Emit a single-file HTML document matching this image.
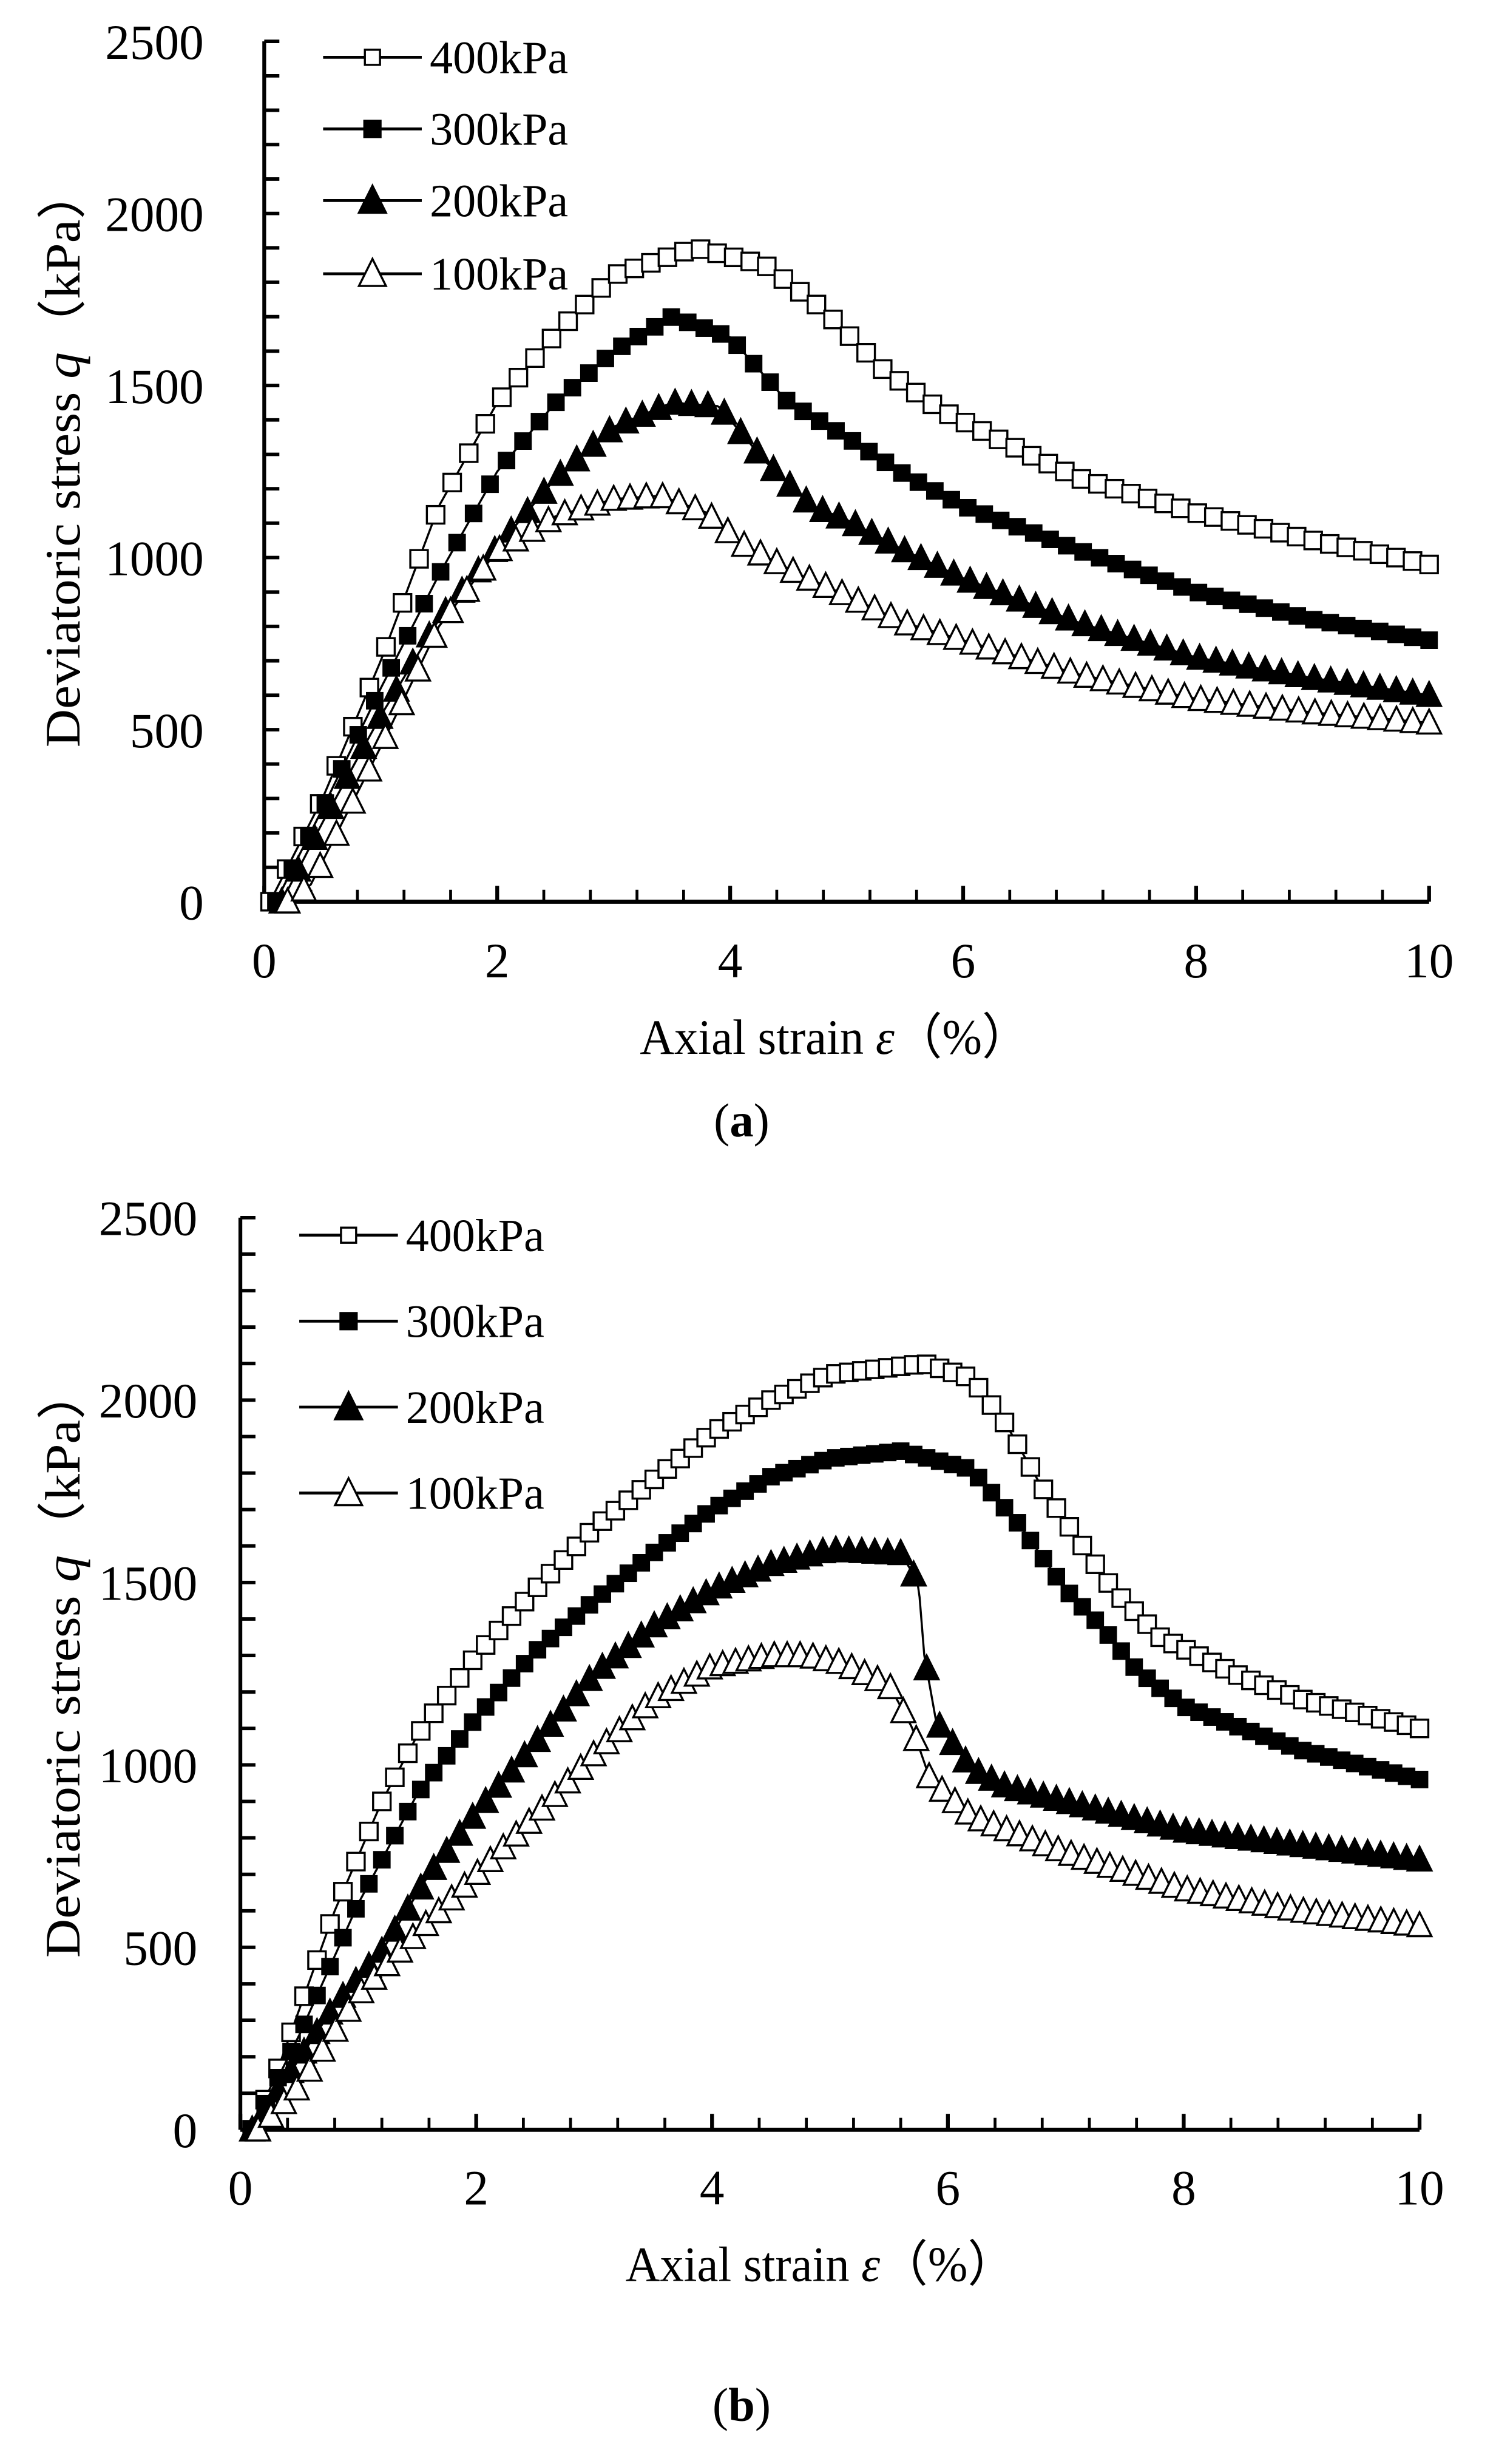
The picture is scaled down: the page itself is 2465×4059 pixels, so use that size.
<!DOCTYPE html>
<html><head><meta charset="utf-8"><style>
html,body{margin:0;padding:0;background:#fff}
svg{display:block}
text{font-family:"Liberation Serif",serif;fill:#000}
</style></head><body>
<svg id="s" width="2465" height="4059" viewBox="0 0 940 1548" xmlns="http://www.w3.org/2000/svg">
<rect width="940" height="1548" fill="#fff"/>
</svg>
<script>
const NS="http://www.w3.org/2000/svg",S=document.getElementById('s');
function el(t,a,txt){const e=document.createElementNS(NS,t);for(const k in a)e.setAttribute(k,a[k]);if(txt!==undefined)e.textContent=txt;S.appendChild(e);return e;}
function interp(p,x){for(let i=0;i<p.length-1;i++){if(x<=p[i+1][0]){const t=(x-p[i][0])/(p[i+1][0]-p[i][0]);return p[i][1]+t*(p[i+1][1]-p[i][1]);}}return p[p.length-1][1];}
function marker(type,x,y,sz){
 if(type==0) el('rect',{x:x-sz/2,y:y-sz/2,width:sz,height:sz,fill:'#fff',stroke:'#000','stroke-width':1.3});
 else if(type==1) el('rect',{x:x-sz/2,y:y-sz/2,width:sz,height:sz,fill:'#000'});
 else {const h=sz;el('polygon',{points:`${x},${y-h*0.55} ${x-sz*0.5},${y+h*0.45} ${x+sz*0.5},${y+h*0.45}`,fill:type==2?'#000':'#fff',stroke:'#000','stroke-width':1.3});}
}
function chart(c){
 const X=v=>c.x0+(c.x1-c.x0)*v/10, Y=v=>c.y0+(c.y1-c.y0)*v/2500;
 el('line',{x1:c.x0,y1:c.y1,x2:c.x0,y2:c.y0,stroke:'#000','stroke-width':2.4});
 el('line',{x1:c.x0,y1:c.y0,x2:c.x1,y2:c.y0,stroke:'#000','stroke-width':2.6});
 for(let v=0;v<=2500;v+=100){el('line',{x1:c.x0,y1:Y(v),x2:c.x0+9.5,y2:Y(v),stroke:'#000','stroke-width':2.2});
  if(v%500==0) el('text',{x:c.lblR,y:Y(v)+11,'font-size':31,'text-anchor':'end'},v);}
 for(let k=0;k<=25;k++){const v=k*0.4;el('line',{x1:X(v),y1:c.y0,x2:X(v),y2:c.y0-7.5,stroke:'#000','stroke-width':1.8});}
 for(let v=0;v<=10;v+=2){el('line',{x1:X(v),y1:c.y0,x2:X(v),y2:c.y0-10,stroke:'#000','stroke-width':2.4});
  el('text',{x:X(v),y:c.xtb,'font-size':31,'text-anchor':'middle'},v);}
 const yl=el('text',{x:0,y:0,'font-size':31,'text-anchor':'middle',textLength:c.yll,lengthAdjust:'spacingAndGlyphs',transform:`translate(${c.ylx},${c.ylc}) rotate(-90)`});
 yl.innerHTML='Deviatoric stress <tspan font-style="italic">q</tspan>（kPa）';
 const xl=el('text',{x:c.xlx,y:c.xly,'font-size':31,textLength:245,lengthAdjust:'spacingAndGlyphs'});
 xl.innerHTML='Axial strain <tspan font-style="italic">ε</tspan>（%）';
 const cap=el('text',{x:466,y:c.capy,'font-size':30,'text-anchor':'middle'});
 cap.innerHTML='(<tspan font-weight="bold">'+c.cap+'</tspan>)';
 c.series.forEach((p,i)=>{
  let d='';const st=p[0][0],en=p[p.length-1][0];
  for(let x=st;x<=en+1e-9;x+=0.02){d+=(d?'L':'M')+X(x).toFixed(2)+','+Y(interp(p,x)).toFixed(2);}
  el('path',{d:d,fill:'none',stroke:'#000','stroke-width':1.3});
  const n=c.nm;for(let k=0;k<=n;k++){const x=st+(en-st)*k/n;marker(i,X(x),Y(interp(p,x)),i>=2?15:11);}
 });
 const names=['400kPa','300kPa','200kPa','100kPa'];
 names.forEach((nm,i)=>{const y=c.ly[i];el('line',{x1:c.lx0,y1:y,x2:c.lx1,y2:y,stroke:'#000','stroke-width':1.8});
  marker(i,(c.lx0+c.lx1)/2,y,i>=2?17:(i==0?9.5:11.5));el('text',{x:c.lx1+5,y:y+10,'font-size':29},nm);});
}
chart({x0:166,x1:898,y0:566.5,y1:26,lblR:128,xtb:614,ylx:50,ylc:287,yll:365,xlx:402,xly:662,capy:714,cap:'a',nm:70,
 lx0:203,lx1:265,ly:[36,81,126,172],
 series:[
 [[0.05,0],[0.5,300],[1,700],[1.5,1150],[2,1450],[2.5,1650],[3,1820],[3.7,1900],[4.3,1850],[4.8,1720],[5.3,1550],[5.8,1430],[6.5,1310],[7,1230],[8,1130],[9,1050],[10,980]],
 [[0.1,0],[0.5,270],[1,620],[1.5,950],[2,1250],[2.5,1450],[3,1600],[3.5,1700],[4,1640],[4.5,1450],[5,1350],[5.5,1240],[6,1150],[7,1020],[8,900],[9,820],[10,760]],
 [[0.15,0],[0.5,230],[1,540],[1.5,820],[2,1030],[2.5,1230],[3,1380],[3.5,1450],[3.9,1440],[4.3,1280],[4.7,1150],[5,1110],[5.5,1020],[6,940],[7,810],[8,710],[9,650],[10,600]],
 [[0.2,0],[0.4,50],[1,450],[1.5,800],[2,1020],[2.5,1120],[3,1170],[3.4,1180],[3.8,1130],[4.1,1040],[4.6,950],[5,890],[5.5,810],[6,760],[7,660],[8,590],[9,550],[10,520]]]});
chart({x0:151,x1:892,y0:1338,y1:765,lblR:124,xtb:1385,ylx:50,ylc:1044,yll:372,xlx:393,xly:1433,capy:1521,cap:'b',nm:90,
 lx0:188,lx1:250,ly:[776,830,884,938],
 series:[
 [[0.1,0],[0.3,150],[0.8,600],[1.2,900],[1.5,1080],[2,1300],[2.5,1480],[3,1650],[3.5,1780],[4,1910],[4.5,2000],[5,2070],[5.8,2100],[6.2,2060],[6.5,1930],[6.8,1760],[7.1,1620],[7.4,1480],[7.8,1350],[8.5,1240],[9,1180],[10,1100]],
 [[0.1,0],[0.5,260],[1,620],[1.5,920],[2,1130],[2.5,1310],[3,1450],[3.5,1580],[4,1700],[4.5,1790],[5,1840],[5.6,1860],[6.2,1810],[6.6,1660],[7,1480],[7.3,1380],[7.6,1260],[8,1160],[9,1040],[10,960]],
 [[0.1,0],[0.8,340],[1.2,490],[1.6,700],[2,870],[2.5,1060],[3,1250],[3.5,1380],[4,1480],[4.5,1550],[5,1590],[5.6,1580],[5.75,1500],[5.8,1300],[5.9,1120],[6.2,990],[6.5,940],[7,900],[8,820],[9,780],[10,740]],
 [[0.15,0],[0.5,120],[1,370],[1.5,540],[2,700],[2.5,860],[3,1030],[3.5,1180],[4,1270],[4.5,1300],[4.8,1300],[5.1,1280],[5.5,1220],[5.7,1100],[5.85,960],[6.2,860],[7,760],[8,660],[9,600],[10,560]]]});
</script>
</body></html>
